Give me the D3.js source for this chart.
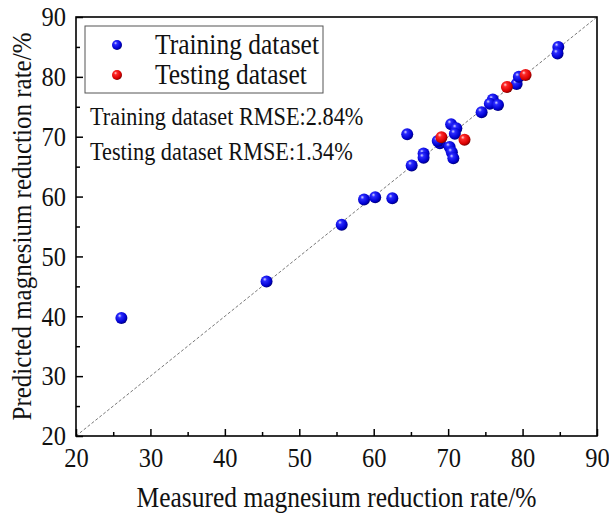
<!DOCTYPE html>
<html>
<head>
<meta charset="utf-8">
<script src="https://cdn.jsdelivr.net/npm/d3@7"></script>
<style>
  body { margin: 0; background: #fff; }
  svg text { font-family: "Liberation Serif", "Times New Roman", serif; fill: #111; }
</style>
</head>
<body>
<svg id="chart" width="609" height="517"></svg>
<script>
// Training points (measured, predicted)
const trainX = [26.1, 45.6, 55.7, 58.7, 60.2, 62.5, 64.5, 65.1, 66.7, 66.7, 68.9, 68.6, 70.4, 71.1, 70.9, 70.2, 70.5, 70.7, 74.5, 76.0, 75.6, 76.7, 79.2, 79.5, 84.8, 84.7];
const trainY = [39.7, 45.8, 55.3, 59.5, 59.9, 59.7, 70.4, 65.2, 67.2, 66.5, 68.9, 69.3, 72.1, 71.4, 70.5, 68.3, 67.4, 66.4, 74.1, 76.2, 75.5, 75.3, 78.8, 80.0, 85.0, 83.9];
// Testing points
const testX = [69.1, 72.2, 77.9, 80.4];
const testY = [69.9, 69.5, 78.3, 80.3];

const xMajor = [20, 30, 40, 50, 60, 70, 80, 90];
const xMinor = [25, 35, 45, 55, 65, 75, 85];
const yMajor = [20, 30, 40, 50, 60, 70, 80, 90];
const yMinor = [25, 35, 45, 55, 65, 75, 85];

const legendNames = ["Training dataset", "Testing dataset"];
const rmseLines = ["Training dataset RMSE:2.84%", "Testing dataset RMSE:1.34%"];

const svg = d3.select("#chart");
const plot = { left: 76, top: 17, right: 597, bottom: 436 };
const stretch = 1.12; // the original glyphs are a little taller than wide

const x = d3.scaleLinear().domain([20, 90]).range([plot.left, plot.right]);
const y = d3.scaleLinear().domain([20, 90]).range([plot.bottom, plot.top]);

// sphere-like gradients for markers
const defs = svg.append("defs");
function ball(id, light, mid, dark, edge) {
  const g = defs.append("radialGradient").attr("id", id)
    .attr("cx", "40%").attr("cy", "38%").attr("r", "65%")
    .attr("fx", "35%").attr("fy", "30%");
  g.append("stop").attr("offset", "0%").attr("stop-color", light);
  g.append("stop").attr("offset", "25%").attr("stop-color", mid);
  g.append("stop").attr("offset", "75%").attr("stop-color", dark);
  g.append("stop").attr("offset", "100%").attr("stop-color", edge);
}
ball("blueBall", "#d8d8ff", "#2a2aff", "#0000d0", "#000070");
ball("redBall", "#ffd8d8", "#ff2a2a", "#d80000", "#700000");

// text placed at a point, stretched vertically around its baseline
function label(px, py, size, str, anchor) {
  return svg.append("text")
    .attr("transform", `translate(${px},${py}) scale(1,${stretch})`)
    .attr("font-size", size)
    .attr("text-anchor", anchor || "start")
    .text(str);
}

// diagonal y = x
svg.append("line")
  .attr("x1", x(20)).attr("y1", y(20))
  .attr("x2", x(90)).attr("y2", y(90))
  .attr("stroke", "#555").attr("stroke-width", 0.8)
  .attr("stroke-dasharray", "3,2");

// axes with inward ticks
svg.append("g").attr("transform", `translate(0,${plot.bottom})`)
  .call(d3.axisBottom(x).tickValues(xMajor).tickSize(-7).tickPadding(10).tickFormat(d3.format("d")));
svg.append("g").attr("transform", `translate(0,${plot.bottom})`)
  .call(d3.axisBottom(x).tickValues(xMinor).tickSize(-4).tickFormat(""));
svg.append("g").attr("transform", `translate(${plot.left},0)`)
  .call(d3.axisLeft(y).tickValues(yMajor).tickSize(-7).tickPadding(10).tickFormat(d3.format("d")));
svg.append("g").attr("transform", `translate(${plot.left},0)`)
  .call(d3.axisLeft(y).tickValues(yMinor).tickSize(-4).tickFormat(""));

svg.selectAll(".domain").remove();
svg.selectAll(".tick line").attr("stroke", "#000").attr("stroke-width", 1.5);
svg.selectAll(".tick text").attr("font-size", 24.5).attr("fill", "#111")
  .attr("transform", `scale(1,${stretch})`);

// frame
svg.append("rect")
  .attr("x", plot.left).attr("y", plot.top)
  .attr("width", plot.right - plot.left).attr("height", plot.bottom - plot.top)
  .attr("fill", "none").attr("stroke", "#000").attr("stroke-width", 1.6);

// points
const r = 6;
svg.append("g").selectAll("circle")
  .data(trainX.map((d, i) => [d, trainY[i]]))
  .join("circle")
  .attr("cx", d => x(d[0])).attr("cy", d => y(d[1]))
  .attr("r", r).attr("fill", "url(#blueBall)");
svg.append("g").selectAll("circle")
  .data(testX.map((d, i) => [d, testY[i]]))
  .join("circle")
  .attr("cx", d => x(d[0])).attr("cy", d => y(d[1]))
  .attr("r", r).attr("fill", "url(#redBall)");

// legend
svg.append("rect").attr("x", 85).attr("y", 26).attr("width", 238).attr("height", 67)
  .attr("fill", "#fff").attr("stroke", "#555").attr("stroke-width", 1);
const legFill = ["url(#blueBall)", "url(#redBall)"];
legendNames.forEach((name, i) => {
  svg.append("circle").attr("cx", 117).attr("cy", 45 + i * 30).attr("r", 5)
    .attr("fill", legFill[i]);
  label(155, 54 + i * 30, 25.5, name);
});

// RMSE notes
rmseLines.forEach((t, i) => label(90, 125 + i * 35, 22.3, t));

// axis titles
label((plot.left + plot.right) / 2, 507, 25.5, "Measured magnesium reduction rate/%", "middle");
svg.append("text")
  .attr("transform", `translate(31,${(plot.top + plot.bottom) / 2}) rotate(-90) scale(1,${stretch})`)
  .attr("text-anchor", "middle").attr("font-size", 25)
  .text("Predicted magnesium reduction rate/%");
</script>
</body>
</html>
